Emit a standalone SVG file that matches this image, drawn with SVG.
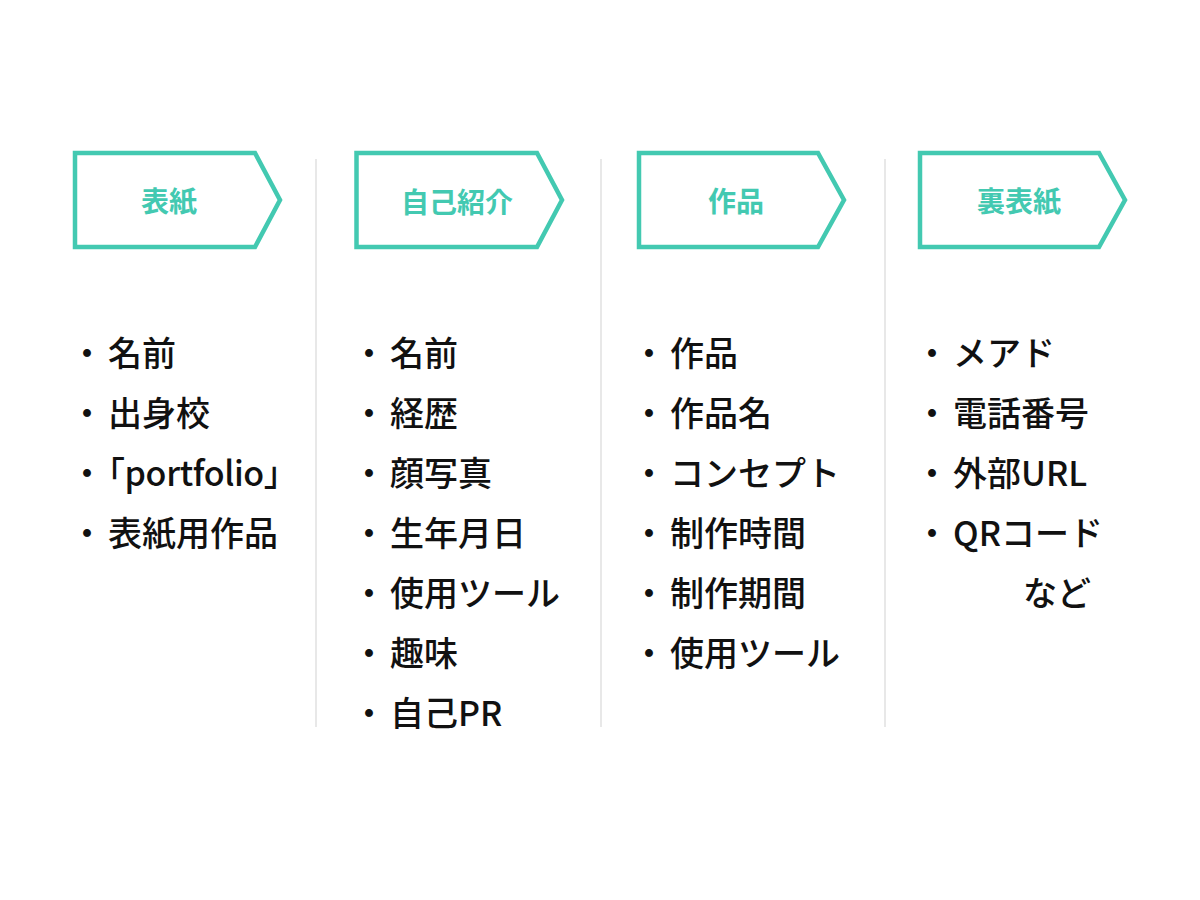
<svg xmlns="http://www.w3.org/2000/svg" width="1200" height="900" viewBox="0 0 1200 900">
<style>
.hdr{fill:#fff;stroke:#43C9B1;stroke-width:4.5;stroke-linejoin:miter}
.ht{font-family:"Noto Sans CJK JP","Noto Sans",sans-serif;font-weight:700;font-size:28px;fill:#43C9B1;text-anchor:middle}
.it{font-family:"Noto Sans CJK JP","Noto Sans",sans-serif;font-weight:500;font-size:34px;fill:#111}
.ha{font-feature-settings:"halt" 1}
.div{stroke:#d9d9d9;stroke-width:1.2}
</style>
<rect width="1200" height="900" fill="#fff"/>
<g id="connectors">
<line class="div" x1="316" y1="159" x2="316" y2="727"/>
<line class="div" x1="601" y1="159" x2="601" y2="727"/>
<line class="div" x1="885" y1="159" x2="885" y2="727"/>
</g>
<g id="col1">
<polygon class="hdr" points="75,153 255,153 280,200 255,247 75,247"/>
<text class="ht" x="169" y="212">表紙</text>
<text class="it" y="366"><tspan x="70">・</tspan><tspan x="108">名前</tspan></text>
<text class="it" y="426"><tspan x="70">・</tspan><tspan x="108">出身校</tspan></text>
<text class="it" y="486"><tspan x="70">・</tspan><tspan x="108" class="ha" letter-spacing="-0.4">「portfolio」</tspan></text>
<text class="it" y="546"><tspan x="70">・</tspan><tspan x="108">表紙用作品</tspan></text>
</g>
<g id="col2">
<polygon class="hdr" points="356.5,153 537,153 562,200 537,247 356.5,247"/>
<text class="ht" x="457" y="213">自己紹介</text>
<text class="it" y="366"><tspan x="352">・</tspan><tspan x="390">名前</tspan></text>
<text class="it" y="426"><tspan x="352">・</tspan><tspan x="390">経歴</tspan></text>
<text class="it" y="486"><tspan x="352">・</tspan><tspan x="390">顔写真</tspan></text>
<text class="it" y="546"><tspan x="352">・</tspan><tspan x="390">生年月日</tspan></text>
<text class="it" y="606"><tspan x="352">・</tspan><tspan x="390">使用ツール</tspan></text>
<text class="it" y="666"><tspan x="352">・</tspan><tspan x="390">趣味</tspan></text>
<text class="it" y="726"><tspan x="352">・</tspan><tspan x="390">自己PR</tspan></text>
</g>
<g id="col3">
<polygon class="hdr" points="639,153 818,153 844,200 818,247 639,247"/>
<text class="ht" x="736" y="212">作品</text>
<text class="it" y="366"><tspan x="632">・</tspan><tspan x="670">作品</tspan></text>
<text class="it" y="426"><tspan x="632">・</tspan><tspan x="670">作品名</tspan></text>
<text class="it" y="486"><tspan x="632">・</tspan><tspan x="670">コンセプト</tspan></text>
<text class="it" y="546"><tspan x="632">・</tspan><tspan x="670">制作時間</tspan></text>
<text class="it" y="606"><tspan x="632">・</tspan><tspan x="670">制作期間</tspan></text>
<text class="it" y="666"><tspan x="632">・</tspan><tspan x="670">使用ツール</tspan></text>
</g>
<g id="col4">
<polygon class="hdr" points="920,153 1099,153 1125,200 1099,247 920,247"/>
<text class="ht" x="1019" y="212">裏表紙</text>
<text class="it" y="366"><tspan x="915">・</tspan><tspan x="953">メアド</tspan></text>
<text class="it" y="426"><tspan x="915">・</tspan><tspan x="953">電話番号</tspan></text>
<text class="it" y="486"><tspan x="915">・</tspan><tspan x="953">外部URL</tspan></text>
<text class="it" y="546"><tspan x="915">・</tspan><tspan x="953">QRコード</tspan></text>
<text class="it" x="1023" y="606">など</text>
</g>
</svg>
